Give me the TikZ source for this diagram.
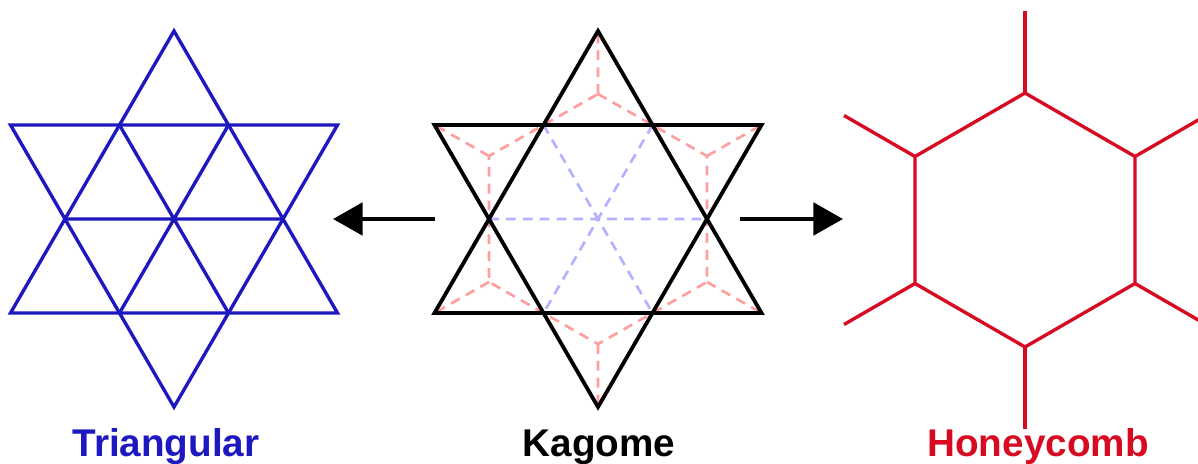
\documentclass[tikz,border=0pt]{standalone}
\usepackage{fontspec}
\setmainfont{Liberation Sans}
\usetikzlibrary{arrows.meta}
\definecolor{latblue}{HTML}{1E18C0}
\definecolor{latred}{HTML}{D80A22}

\begin{document}
\begin{tikzpicture}[
    x=0.025cm, y=-0.025cm,
    bond/.style={line width=2.4pt, line join=miter},
    triline/.style={bond, draw=latblue},
    kagline/.style={bond, line width=2.7pt, draw=black},
    honline/.style={bond, draw=latred},
    guide/.style={line width=1.9pt, dash pattern=on 7pt off 5pt},
    lattname/.style={font=\bfseries\fontsize{27.5}{30}\selectfont, anchor=base},
    conv/.style={line width=2.8pt, -{Triangle[length=21pt,width=23pt]}}
  ]
    \useasboundingbox (0,0) rectangle (1198,464);

    % lattice points of both stars
    \foreach \s/\cx in {tri/174, kag/598} {
      \coordinate (\s-t) at (\cx,31);
      \coordinate (\s-b) at (\cx,407);
      \coordinate (\s-uol) at (\cx-163.5,125);
      \coordinate (\s-uil) at (\cx-54.5,125);
      \coordinate (\s-uir) at (\cx+54.5,125);
      \coordinate (\s-uor) at (\cx+163.5,125);
      \coordinate (\s-l) at (\cx-109,219);
      \coordinate (\s-c) at (\cx,219);
      \coordinate (\s-r) at (\cx+109,219);
      \coordinate (\s-lol) at (\cx-163.5,313);
      \coordinate (\s-lil) at (\cx-54.5,313);
      \coordinate (\s-lir) at (\cx+54.5,313);
      \coordinate (\s-lor) at (\cx+163.5,313);
    }

    % triangular
    \draw[triline] (tri-t) -- (tri-lol) -- (tri-lor) -- cycle;
    \draw[triline] (tri-b) -- (tri-uol) -- (tri-uor) -- cycle;
    \draw[triline] (tri-l) -- (tri-r) (tri-uil) -- (tri-lir) (tri-uir) -- (tri-lil);

    % kagome, with its honeycomb and triangular guides
    \coordinate (kag-h1) at (598,94);
    \coordinate (kag-h2) at (707,156);
    \coordinate (kag-h3) at (707,282);
    \coordinate (kag-h4) at (598,344);
    \coordinate (kag-h5) at (489,282);
    \coordinate (kag-h6) at (489,156);
    \draw[guide, draw=red!38] (kag-h1) -- (kag-h2) -- (kag-h3) -- (kag-h4) -- (kag-h5) -- (kag-h6) -- cycle;
    \draw[guide, draw=red!38] (kag-h1) -- (kag-t) (kag-h2) -- (kag-uor) (kag-h3) -- (kag-lor)
      (kag-h4) -- (kag-b) (kag-h5) -- (kag-lol) (kag-h6) -- (kag-uol);
    \draw[guide, draw=blue!30] (kag-l) -- (kag-r) (kag-uil) -- (kag-lir) (kag-uir) -- (kag-lil);
    \draw[kagline] (kag-t) -- (kag-lol) -- (kag-lor) -- cycle;
    \draw[kagline] (kag-b) -- (kag-uol) -- (kag-uor) -- cycle;

    % honeycomb
    \coordinate (hon-1) at (1025,93);
    \coordinate (hon-2) at (1135,156.5);
    \coordinate (hon-3) at (1135,283.5);
    \coordinate (hon-4) at (1025,347);
    \coordinate (hon-5) at (915,283.5);
    \coordinate (hon-6) at (915,156.5);
    \coordinate (hon-e1) at (1025,11);
    \coordinate (hon-e2) at (1206,115.5);
    \coordinate (hon-e3) at (1206,324.5);
    \coordinate (hon-e4) at (1025,429);
    \coordinate (hon-e5) at (844,324.5);
    \coordinate (hon-e6) at (844,115.5);
    \begin{scope}
      \clip (0,0) rectangle (1198,464);
      \draw[honline] (hon-1) -- (hon-2) -- (hon-3) -- (hon-4) -- (hon-5) -- (hon-6) -- cycle;
      \foreach \i in {1,...,6}
        \draw[honline] (hon-\i) -- (hon-e\i);
    \end{scope}

    % arrows
    \coordinate (kag-w) at (435,219);
    \coordinate (tri-e) at (333,219);
    \coordinate (kag-e) at (740,219);
    \coordinate (hon-w) at (843,219);
    \draw[conv] (kag-w) -- (tri-e);
    \draw[conv] (kag-e) -- (hon-w);

    % names
    \node[lattname, text=latblue] (tri-name) at (166,457) {Triangular};
    \node[lattname, text=black] (kag-name) at (599,457) {Kagome};
    \node[lattname, text=latred] (hon-name) at (1038,457) {Honeycomb};
  \end{tikzpicture}
\end{document}
